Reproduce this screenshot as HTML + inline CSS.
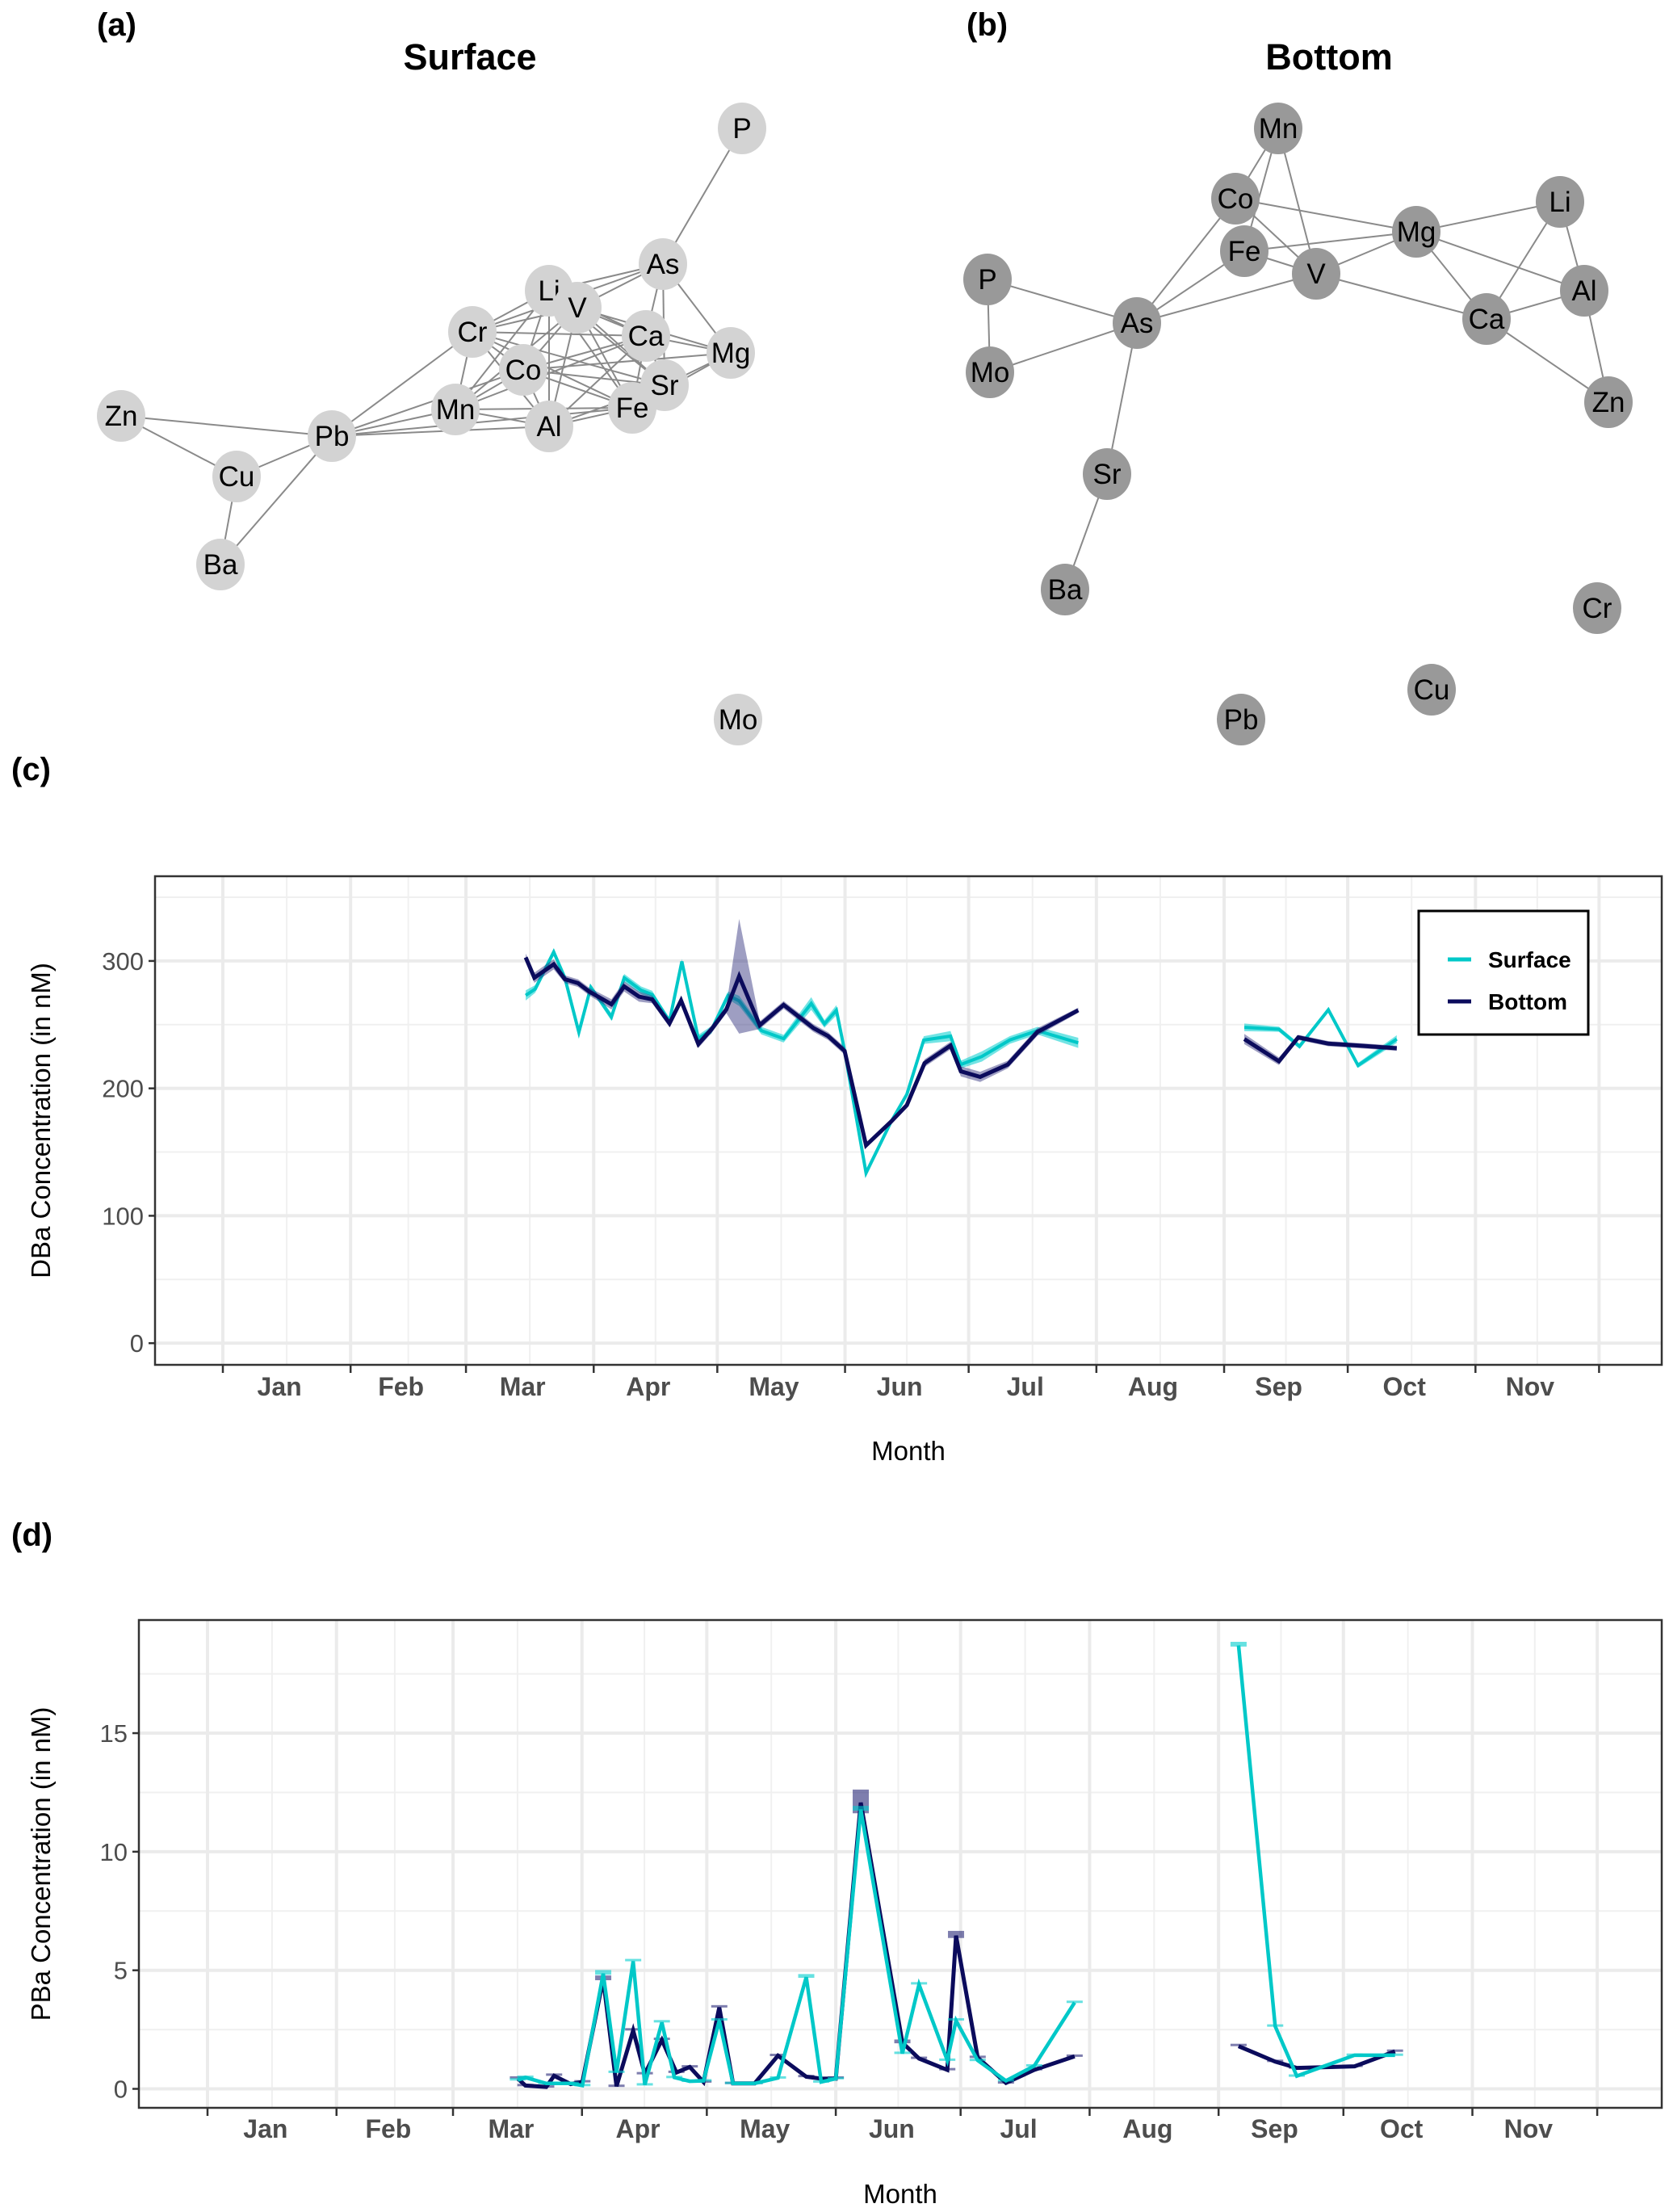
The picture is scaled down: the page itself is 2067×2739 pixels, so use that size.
<!DOCTYPE html>
<html><head><meta charset="utf-8">
<style>
html,body{margin:0;padding:0;background:#fff;}
svg{display:block;font-family:"Liberation Sans",sans-serif;}
</style></head>
<body>
<svg id="fig" width="2067" height="2739" viewBox="0 0 2067 2739" xmlns="http://www.w3.org/2000/svg">
<rect x="0" y="0" width="2067" height="2739" fill="#fff"/>
<text x="120" y="44" font-size="40" font-weight="bold">(a)</text>
<text x="582" y="86" font-size="45" font-weight="bold" text-anchor="middle">Surface</text>
<text x="1197" y="44" font-size="40" font-weight="bold">(b)</text>
<text x="1646" y="86" font-size="45" font-weight="bold" text-anchor="middle">Bottom</text>
<text x="14" y="966" font-size="40" font-weight="bold">(c)</text>
<text x="14" y="1914" font-size="40" font-weight="bold">(d)</text>
<g id="netA"></g>
<g id="netB"></g>
<g id="chartC"></g>
<g id="chartD"></g>
</svg>
<script>
// ---------- Network data ----------
const surfNodes = {P:[919,159],As:[821,327],Li:[680,360],V:[715,381],Cr:[585,411],Ca:[800,416],Mg:[905,437],Co:[648,458],Sr:[823,477],Fe:[783,505],Mn:[564,507],Al:[680,528],Pb:[411,540],Zn:[150,515],Cu:[293,590],Ba:[273,699],Mo:[914,891]};
const surfEdges = [["P","As"],["As","Li"],["As","V"],["As","Cr"],["As","Ca"],["As","Mg"],["As","Sr"],
["Li","V"],["Li","Cr"],["Li","Ca"],["Li","Co"],["Li","Mn"],["Li","Al"],["Li","Fe"],["Li","Sr"],
["V","Cr"],["V","Ca"],["V","Co"],["V","Mn"],["V","Al"],["V","Fe"],["V","Sr"],["V","Mg"],
["Cr","Ca"],["Cr","Co"],["Cr","Mn"],["Cr","Al"],["Cr","Fe"],["Cr","Sr"],["Cr","Pb"],
["Ca","Mg"],["Ca","Co"],["Ca","Sr"],["Ca","Fe"],["Ca","Al"],["Ca","Mn"],
["Mg","Sr"],["Mg","Co"],["Mg","Fe"],
["Co","Sr"],["Co","Fe"],["Co","Mn"],["Co","Al"],["Co","Pb"],
["Sr","Fe"],["Sr","Al"],["Fe","Al"],["Fe","Mn"],["Mn","Al"],["Mn","Pb"],["Al","Pb"],["Fe","Pb"],
["Pb","Zn"],["Pb","Cu"],["Pb","Ba"],["Zn","Cu"],["Cu","Ba"]];
const botNodes = {Mn:[1583,159],Co:[1530,246],Fe:[1541,311],V:[1630,339],Mg:[1754,287],Li:[1932,250],Al:[1962,360],Ca:[1841,395],Zn:[1992,498],P:[1223,346],Mo:[1226,461],As:[1408,400],Sr:[1371,587],Ba:[1319,730],Cr:[1978,753],Cu:[1773,854],Pb:[1537,891]};
const botEdges = [["Mn","Co"],["Mn","Fe"],["Mn","V"],["Co","Mg"],["Co","V"],["Co","As"],["Fe","As"],["Fe","Mg"],["Fe","V"],["V","As"],["V","Mg"],["V","Ca"],["Mg","Li"],["Mg","Ca"],["Mg","Al"],["Li","Ca"],["Li","Al"],["Ca","Al"],["Al","Zn"],["Ca","Zn"],["P","As"],["P","Mo"],["Mo","As"],["As","Sr"],["Sr","Ba"]];

// ---------- Chart C data (day-of-year, values) ----------
const cBotDays = [73.5,75.6,80.3,83,86.2,88.9,94.3,97.4,101,104.2,108.4,111.2,115.4,118.6,122.2,125.3,130.3,136.1,143.3,146.9,150.9,156.1,162.2,166,170.3,176.6,179.1,183.8,190.5,197.7,207.6,247.9,256.3,261,268.3,275.5,284.9];
const cBotVals = [302.8,286.8,297.4,285.7,282.6,276,266,280,272,269.8,251,269,234.7,246.4,262,288,249.6,265.5,247.4,241,229.4,155.3,174,186.8,219.8,233.6,213.4,209,218.7,244.3,261.3,238.7,221.3,240,235.1,233.6,231.5];
const cBotErr = [3,4,4,3,3,3,4,4,4,3,3,3,3,3,3,45,3,3,3,3,3,2,2,2,3,3,4,4,3,3,2,4,3,2,2,2,2];
const cSurfDays = [73.5,75.8,80.3,83,86.4,89.3,94.3,97.4,101.5,104.2,108.4,111.4,115.4,118.6,122.6,125.3,130.7,136.1,142.8,146,148.9,150.9,156.1,162.2,166,170.1,176.6,179.1,184.2,191,197.7,207.6,247.9,256.3,261.3,268.3,275.5,284.9];
const cSurfVals = [273,278,307,286.8,244,279.4,256,286.8,277,273.6,252.8,299.6,239,246,273,268.7,245.3,239,266.6,250.6,261.3,229.4,133.6,174,195.3,237.9,241,218.7,225,238,245.3,235.7,247.9,246.4,233,261.7,218,238.7];
const cSurfErr = [4,3,3,2,2,2,3,3,3,3,2,2,3,3,3,4,3,3,5,3,4,2,2,2,2,3,4,3,4,3,3,4,3,2,2,2,2,3];
const cYTicks = [0,100,200,300];
const months = ["Jan","Feb","Mar","Apr","May","Jun","Jul","Aug","Sep","Oct","Nov"];
const monthStarts = [0,31,59,90,120,151,181,212,243,273,304,334];

// ---------- Chart D data ----------
const dBotDays = [74.6,76.4,81.4,83.3,87.3,90.1,95.1,98.3,102.3,105.1,109.2,112.7,115.9,119.2,123,126.3,131.5,137.1,143.9,147.5,151,157,167,171,177.8,179.9,185.1,191.9,198.7,208.4,247.8,256.6,261.8,275.7,285.4];
const dBotVals = [0.43,0.14,0.08,0.55,0.2,0.29,4.63,0.11,2.46,0.63,2.06,0.69,0.92,0.29,3.43,0.23,0.23,1.4,0.51,0.43,0.43,12.07,1.95,1.28,0.8,6.46,1.32,0.25,0.8,1.37,1.8,1.15,0.88,0.95,1.58];
const dBotErr = [0.05,0.02,0.02,0.05,0.02,0.03,0.1,0.02,0.05,0.03,0.05,0.03,0.03,0.02,0.05,0.02,0.02,0.03,0.03,0.03,0.05,0.5,0.08,0.03,0.03,0.15,0.03,0.02,0.03,0.03,0.05,0.03,0.02,0.02,0.03];
const dSurfDays = [74.6,76.4,81.4,87.3,90.1,95.1,98.3,102.3,105.1,109.2,112.2,115.9,119.2,123,126.3,131.5,137.1,143.9,147.5,151,157,167,171,177.8,179.9,185.1,191.9,198.7,208.4,247.8,256.6,261.8,275.7,285.4];
const dSurfVals = [0.37,0.48,0.23,0.23,0.14,4.86,0.69,5.38,0.17,2.8,0.48,0.32,0.34,2.88,0.23,0.23,0.46,4.71,0.29,0.43,11.78,1.49,4.4,1.2,2.88,1.2,0.34,0.97,3.64,18.7,2.64,0.54,1.42,1.42];
const dSurfErr = [0.03,0.03,0.02,0.02,0.02,0.1,0.03,0.05,0.02,0.05,0.02,0.02,0.02,0.05,0.02,0.02,0.02,0.08,0.02,0.02,0.1,0.03,0.05,0.03,0.05,0.02,0.02,0.02,0.03,0.1,0.03,0.02,0.02,0.02];
const dYTicks = [0,5,10,15];

const NS = "http://www.w3.org/2000/svg";
function mk(tag, parent, attrs){ const e=document.createElementNS(NS,tag); for(const k in attrs) e.setAttribute(k,attrs[k]); parent.appendChild(e); return e; }

function drawNet(g, nodes, edges, fill){
  edges.forEach(([a,b])=>{
    const l = mk("line", g, {x1:nodes[a][0],y1:nodes[a][1],x2:nodes[b][0],y2:nodes[b][1],stroke:"#8a8a8a","stroke-width":2});
    
    
  });
  Object.keys(nodes).forEach(k=>{
    const [x,y]=nodes[k];
    const c = mk("ellipse", g, {cx:x,cy:y,rx:30,ry:32,fill:fill});
    
    
    const t = mk("text", g, {x:x,y:y+12,"font-size":35,"text-anchor":"middle",fill:"#000"});
    t.textContent = k;
    
    
  });
}
drawNet(document.getElementById("netA"), surfNodes, surfEdges, "#d3d3d3");
drawNet(document.getElementById("netB"), botNodes, botEdges, "#999999");

function segments(days){
  const segs=[]; let cur=[0];
  for(let i=1;i<days.length;i++){ if(days[i]-days[i-1]>25){segs.push(cur);cur=[i];} else cur.push(i); }
  segs.push(cur); return segs;
}

function drawChart(g, cfg){
  const {L,R,T,B,x0,pxDay,yMin,yMax,yTicks,minorStep,ylab,series,monthY,titleY,ylabX,band,labShift} = cfg;
  const xs = d => x0 + d*pxDay;
  const ys = v => B - (v - yMin)/(yMax - yMin)*(B - T);
  const bg = mk("rect", g, {x:L,y:T,width:R-L,height:B-T,fill:"#fff"});
   
  for(let v=yTicks[0]-minorStep; v<=yMax; v+=minorStep*2){ if(v<yMin) continue;
    const l=mk("line",g,{x1:L,x2:R,y1:ys(v),y2:ys(v),stroke:"#f0f0f0","stroke-width":2});
      }
  for(let i=0;i<monthStarts.length-1;i++){ const xm=xs((monthStarts[i]+monthStarts[i+1])/2);
    const l=mk("line",g,{x1:xm,x2:xm,y1:T,y2:B,stroke:"#f0f0f0","stroke-width":2});
      }
  yTicks.forEach(v=>{ const l=mk("line",g,{x1:L,x2:R,y1:ys(v),y2:ys(v),stroke:"#ebebeb","stroke-width":4});
      });
  monthStarts.forEach(d=>{ const l=mk("line",g,{x1:xs(d),x2:xs(d),y1:T,y2:B,stroke:"#ebebeb","stroke-width":4});
      });
  series.forEach(s=>{
    segments(s.days).forEach(seg=>{
      if(band){
        const up=seg.map(i=>xs(s.days[i])+","+ys(s.vals[i]+s.err[i]));
        const lo=seg.slice().reverse().map(i=>xs(s.days[i])+","+ys(s.vals[i]-s.err[i]));
        const p=mk("polygon",g,{points:up.concat(lo).join(" "),fill:s.band});
         
      } else {
        seg.forEach(i=>{ const h=Math.max(3,ys(s.vals[i]-s.err[i])-ys(s.vals[i]+s.err[i]));
          const r=mk("rect",g,{x:xs(s.days[i])-10,y:ys(s.vals[i]+s.err[i])-1.5,width:20,height:h,fill:s.band});
            });
      }
      const pl=mk("polyline",g,{points:seg.map(i=>xs(s.days[i])+","+ys(s.vals[i])).join(" "),fill:"none",stroke:s.color,"stroke-width":s.w,"stroke-linejoin":"miter"});
       
    });
  });
  const fr=mk("rect",g,{x:L,y:T,width:R-L,height:B-T,fill:"none",stroke:"#333","stroke-width":2.5});
   
  yTicks.forEach(v=>{
    const t=mk("line",g,{x1:L-8,x2:L,y1:ys(v),y2:ys(v),stroke:"#333","stroke-width":2.5});
     
    const tx=mk("text",g,{x:L-14,y:ys(v)+11,"font-size":31,"text-anchor":"end",fill:"#4d4d4d"});
    tx.textContent=v;  
  });
  monthStarts.forEach(d=>{ const t=mk("line",g,{x1:xs(d),x2:xs(d),y1:B,y2:B+10,stroke:"#333","stroke-width":2.5});
      });
  months.forEach((m,i)=>{ const tx=mk("text",g,{x:xs((monthStarts[i]+monthStarts[i+1])/2)+labShift,y:monthY,"font-size":32,"font-weight":"bold","text-anchor":"middle",fill:"#4d4d4d"});
    tx.textContent=m;   });
  const xt=mk("text",g,{x:(L+R)/2,y:titleY,"font-size":33,"text-anchor":"middle",fill:"#000"});
  xt.textContent="Month";  
  const yc=(T+B)/2;
  const yt=mk("text",g,{x:ylabX,y:yc,"font-size":33,"text-anchor":"middle",fill:"#000",transform:"rotate(-90 "+ylabX+" "+yc+")"});
  yt.textContent=ylab;  
}

const SURF="#00c8c8", BOT="#0b0b5c";
drawChart(document.getElementById("chartC"),{L:192,R:2058,T:1085,B:1690,x0:276,pxDay:5.103,yMin:-17,yMax:366.5,yTicks:cYTicks,minorStep:50,
  ylab:"DBa Concentration (in nM)",monthY:1728,titleY:1808,ylabX:62,band:true,labShift:-9,
  series:[{name:"surface",days:cSurfDays,vals:cSurfVals,err:cSurfErr,color:SURF,band:"rgba(0,205,205,0.55)",w:4},
          {name:"bottom",days:cBotDays,vals:cBotVals,err:cBotErr,color:BOT,band:"rgba(40,40,120,0.45)",w:5}]});
drawChart(document.getElementById("chartD"),{L:172,R:2058,T:2006,B:2610,x0:257,pxDay:5.153,yMin:-0.8,yMax:19.77,yTicks:dYTicks,minorStep:2.5,
  ylab:"PBa Concentration (in nM)",monthY:2647,titleY:2728,ylabX:62,band:false,labShift:-8,
  series:[{name:"bottom",days:dBotDays,vals:dBotVals,err:dBotErr,color:BOT,band:"rgba(40,40,120,0.6)",w:5},
          {name:"surface",days:dSurfDays,vals:dSurfVals,err:dSurfErr,color:SURF,band:"rgba(0,205,205,0.6)",w:4.5}]});

const lg=document.getElementById("chartC");
const lb=mk("rect",lg,{x:1757,y:1128,width:210,height:153,fill:"#fff",stroke:"#000","stroke-width":3});
 
[["Surface",SURF,1188],["Bottom",BOT,1240]].forEach(([n,c,y])=>{
  const l=mk("line",lg,{x1:1793,x2:1822,y1:y,y2:y,stroke:c,"stroke-width":5});
   
  const t=mk("text",lg,{x:1843,y:y+10,"font-size":28,"font-weight":"bold",fill:"#000"});
  t.textContent=n;  
});
</script>
</body></html>
